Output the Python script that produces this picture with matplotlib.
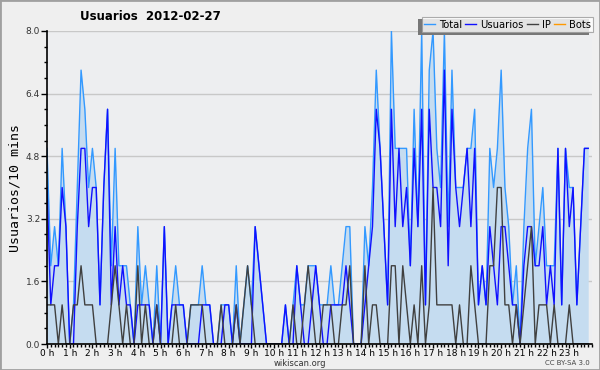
import numpy as np
import matplotlib
matplotlib.use("Agg")
import matplotlib.pyplot as plt
from matplotlib.patches import Rectangle
from matplotlib.lines import Line2D
from matplotlib.ticker import MultipleLocator

# 10-minute slots, 2012-02-27 (144 slots)
usuarios = [4, 1, 2, 2, 4, 3, 0, 0, 3, 5, 5, 3, 4, 4, 1, 4, 6, 1, 3, 1,
            2, 1, 1, 0, 1, 1, 1, 1, 0, 1, 0, 3, 0, 1, 1, 1, 1, 0, 0, 0,
            0, 1, 1, 1, 0, 0, 0, 1, 1, 0, 1, 0, 0, 0, 0, 3, 2, 1, 0, 0,
            0, 0, 0, 1, 0, 0, 2, 1, 0, 0, 1, 2, 1, 0, 0, 1, 1, 1, 1, 2,
            1, 0, 0, 0, 1, 2, 3, 6, 5, 3, 1, 6, 3, 5, 3, 4, 2, 5, 3, 6,
            1, 6, 4, 4, 3, 7, 2, 6, 4, 3, 4, 5, 3, 5, 1, 2, 1, 3, 2, 1,
            3, 3, 2, 1, 1, 0, 2, 3, 3, 2, 2, 3, 1, 2, 1, 5, 1, 5, 3, 4,
            1, 3, 5, 5]
ip = [1, 1, 1, 0, 1, 0, 0, 1, 1, 2, 1, 1, 1, 0, 0, 0, 0, 1, 2, 1,
      0, 1, 0, 0, 2, 0, 1, 0, 0, 1, 0, 0, 0, 0, 1, 0, 0, 0, 1, 1,
      1, 1, 0, 0, 0, 0, 1, 0, 0, 0, 1, 0, 1, 2, 1, 0, 0, 0, 0, 0,
      0, 0, 0, 0, 0, 1, 0, 0, 1, 2, 1, 0, 0, 1, 1, 1, 0, 0, 1, 1,
      2, 0, 0, 0, 2, 0, 1, 1, 0, 0, 0, 2, 2, 0, 2, 1, 0, 1, 0, 2,
      0, 1, 4, 1, 1, 1, 1, 1, 0, 1, 0, 0, 2, 1, 0, 0, 0, 2, 2, 4,
      4, 1, 1, 0, 1, 0, 1, 2, 3, 0, 1, 1, 1, 0, 1, 0, 0, 0, 1, 0,
      0, 0, 0, 0]
total = [5, 2, 3, 2, 5, 3, 0, 1, 4, 7, 6, 4, 5, 4, 1, 4, 6, 2, 5, 2,
         2, 2, 1, 0, 3, 1, 2, 1, 0, 2, 0, 3, 0, 1, 2, 1, 1, 0, 1, 1,
         1, 2, 1, 1, 0, 0, 1, 1, 1, 0, 2, 0, 1, 2, 1, 3, 2, 1, 0, 0,
         0, 0, 0, 1, 0, 1, 2, 1, 1, 2, 2, 2, 1, 1, 1, 2, 1, 1, 2, 3,
         3, 0, 0, 0, 3, 2, 4, 7, 5, 3, 1, 8, 5, 5, 5, 5, 2, 6, 3, 8,
         1, 7, 8, 5, 4, 8, 3, 7, 4, 4, 4, 5, 5, 6, 1, 2, 1, 5, 4, 5,
         7, 4, 3, 1, 2, 0, 3, 5, 6, 2, 3, 4, 2, 2, 2, 5, 1, 5, 4, 4,
         1, 3, 5, 5]
bots = [0] * 144

hour_labels = [f"{h} h" for h in range(24)]

x = np.arange(len(total)) / 6.0

W, H = 600, 370
fig = plt.figure(figsize=(6, 3.7), dpi=100, facecolor="#efefef")
ax = fig.add_axes([47 / W, 1 - 344 / H, 545 / W, 313 / H])
ax.set_facecolor("#edeef0")

ax.fill_between(x, 0, total, color="#c5dcf0", linewidth=0, zorder=1)
ax.plot(x, total, color="#3399ff", lw=1.0, zorder=3)
ax.plot(x, usuarios, color="#1010ff", lw=1.0, zorder=4)
ax.plot(x, ip, color="#404040", lw=1.0, zorder=5)
ax.plot(x, bots, color="#ff9900", lw=1.0, zorder=2)

ax.set_xlim(0, 24)
ax.set_ylim(0, 8.0)
ax.yaxis.set_major_locator(MultipleLocator(1.6))
ax.yaxis.set_minor_locator(MultipleLocator(0.4))
ax.set_yticklabels([f"{v:.1f}" for v in ax.get_yticks()])
ax.set_xticks(range(24))
ax.set_xticklabels(hour_labels)
ax.xaxis.set_minor_locator(MultipleLocator(1 / 6))
ax.grid(axis="y", color="#c8c8c8", lw=1.0, zorder=0)
ax.set_axisbelow(True)
for s in ["top", "right"]:
    ax.spines[s].set_visible(False)
for s in ["left", "bottom"]:
    ax.spines[s].set_color("black")
    ax.spines[s].set_linewidth(1.2)
    ax.spines[s].set_zorder(6)
ax.tick_params(axis="both", which="major", direction="out", length=4,
               width=1, labelsize=6.5, pad=1, colors="black")
ax.tick_params(axis="x", which="major", length=3, pad=0.5)
ax.tick_params(axis="both", which="minor", direction="out", length=2.5, width=1)
ax.tick_params(axis="y", labelcolor="#333333")
ax.set_ylabel("Usuarios/10 mins", fontsize=9.5, family="DejaVu Sans Mono",
              labelpad=3)

fig.text(150 / W, 1 - 16 / H, "Usuarios  2012-02-27", fontsize=8.5,
         fontweight="bold", ha="center", va="center")
fig.text(300 / W, 1 - 363 / H, "wikiscan.org", fontsize=6, ha="center",
         va="center", color="#333333")
fig.text(590 / W, 1 - 363 / H, "CC BY-SA 3.0", fontsize=5, ha="right",
         va="center", color="#444444")

# legend with dark shadow to the lower left
fig.patches.append(Rectangle((418 / W, 1 - 35 / H), 171 / W, 16 / H,
                             transform=fig.transFigure, facecolor="#777777",
                             edgecolor="none", zorder=9))
handles = [Line2D([], [], color=c, lw=1) for c in
           ["#3399ff", "#1010ff", "#404040", "#ff9900"]]
leg = fig.legend(handles, ["Total", "Usuarios", "IP", "Bots"], ncol=4,
                 loc="upper right", bbox_to_anchor=(593 / W, 1 - 17 / H),
                 fontsize=7.2, frameon=True, fancybox=False,
                 handlelength=1.1, handletextpad=0.4, columnspacing=0.3,
                 borderpad=0.25, borderaxespad=0)
leg.get_frame().set_edgecolor("#999999")
leg.get_frame().set_linewidth(0.8)
leg.set_zorder(10)

fig.patches.append(Rectangle((0, 0), 1, 1, transform=fig.transFigure,
                             facecolor="none", edgecolor="#a0a0a0", lw=2,
                             zorder=0))

fig.savefig("out.png", dpi=100, facecolor=fig.get_facecolor())
